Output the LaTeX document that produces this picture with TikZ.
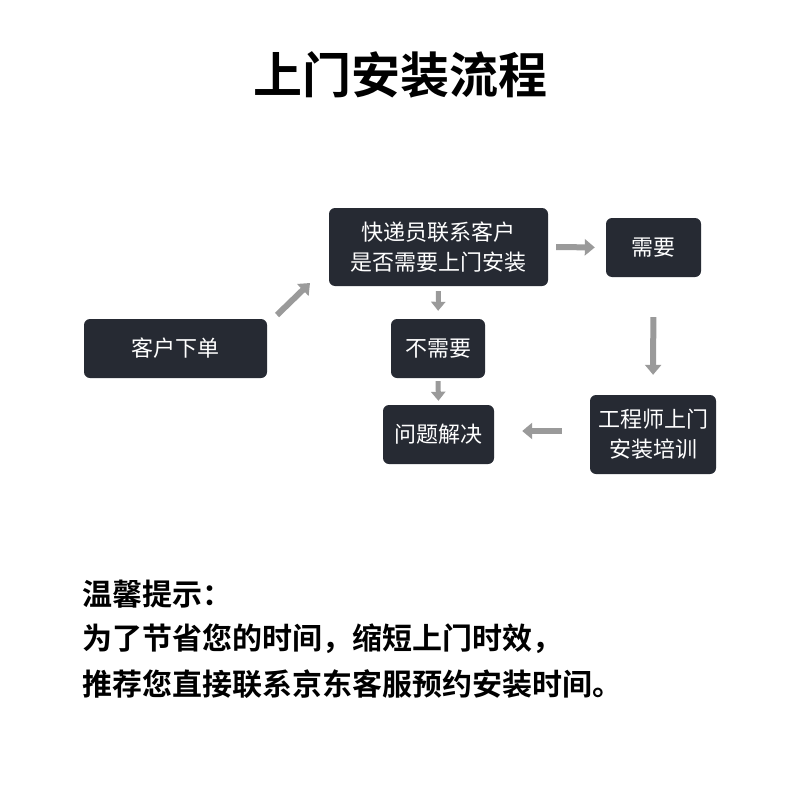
\documentclass[tikz,border=0pt]{standalone}
\usepackage{fontspec}
\setmainfont{Noto Sans CJK SC}[BoldFont={* Bold}]
\usetikzlibrary{arrows.meta}
\definecolor{boxc}{HTML}{262A33}
\definecolor{arrc}{HTML}{9A9A9A}
\tikzset{
  box/.style={draw=none,fill=boxc,rounded corners=6pt,text=white,align=center,inner sep=0pt,
    font=\fontsize{22}{30}\selectfont},
  flow/.style={draw=arrc,line width=6pt,-{Triangle[width=16pt,length=10pt]}},
  tip/.style={anchor=west,inner sep=0pt,font=\fontsize{30}{34}\selectfont\bfseries}
}
\begin{document}
\begin{tikzpicture}[x=1pt,y=-1pt]
\useasboundingbox (0,0) rectangle (800,800);
\fill[white] (0,0) rectangle (800,800);
\node[inner sep=0pt,font=\fontsize{49}{52}\selectfont\bfseries] (title) at (400,75) {上门安装流程};

\node[box,minimum width=183pt,minimum height=59pt] (order) at (175.5,348.5) {客户下单};
\node[box,minimum width=219pt,minimum height=78pt] (contact) at (438.5,247) {快递员联系客户\\是否需要上门安装};
\node[box,minimum width=95pt,minimum height=59pt] (need) at (653.5,247.5) {需要};
\node[box,minimum width=94pt,minimum height=59pt] (noneed) at (438,348.5) {不需要};
\node[box,minimum width=111pt,minimum height=59pt] (solved) at (438.5,434.5) {问题解决};
\node[box,minimum width=126pt,minimum height=79pt] (eng) at (653,434.5) {工程师上门\\安装培训};

\coordinate (d1) at (277,315);
\coordinate (d2) at (310,283);
\draw[flow] (d1) -- (d2);
\draw[flow,shorten <=8pt,shorten >=11pt] (contact.east) -- (need.west);
\draw[flow,line width=5pt,-{Triangle[width=14pt,length=9pt]},shorten <=5pt,shorten >=8pt] (contact.south) -- (noneed.north);
\draw[flow,line width=5pt,-{Triangle[width=14pt,length=9pt]},shorten <=3pt,shorten >=4pt] (noneed.south) -- (solved.north);
\draw[flow,shorten <=40pt,shorten >=20pt] (need.south) -- (eng.north);
\draw[flow,shorten <=28pt,shorten >=28pt] ([yshift=3.5pt]eng.west) -- ([yshift=3.5pt]solved.east);

\node[tip] (t1) at (82,594) {温馨提示：};
\node[tip] (t2) at (82,639) {为了节省您的时间，缩短上门时效，};
\node[tip] (t3) at (82,684) {推荐您直接联系京东客服预约安装时间。};
\end{tikzpicture}
\end{document}
